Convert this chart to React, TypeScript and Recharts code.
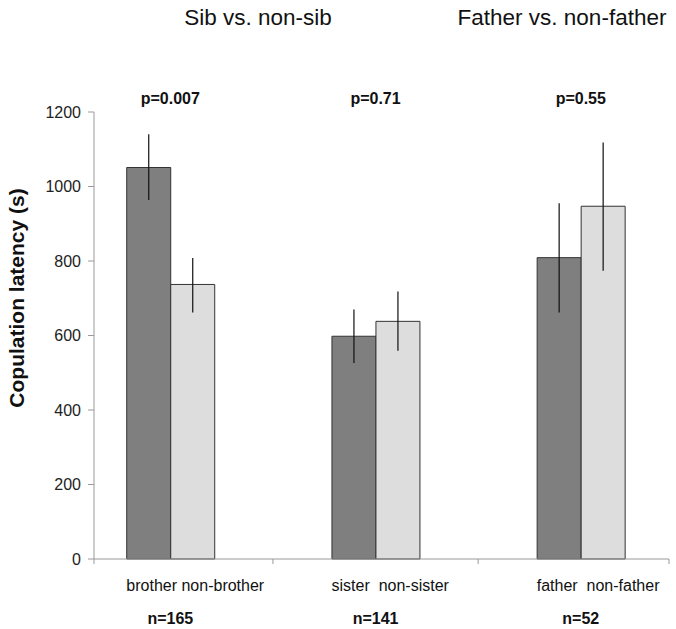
import { BarChart, Bar, XAxis, YAxis, ErrorBar, Customized } from "recharts";

// group index on the x axis (one pair of bars per group)
const groupPos = [0.5, 1.5, 2.5];
const pairLabels = ["brother non-brother", "sister  non-sister", "father  non-father"];
const sampleSizes = ["n=165", "n=141", "n=52"];
const pValues = ["p=0.007", "p=0.71", "p=0.55"];

const relatedMeans = [1051, 598, 809];
const relatedErrLow = [87, 72, 147];
const relatedErrHigh = [89, 72, 146];
const unrelatedMeans = [737, 638, 947];
const unrelatedErrLow = [75, 79, 173];
const unrelatedErrHigh = [71, 80, 171];

const yTicks = [0, 200, 400, 600, 800, 1000, 1200];
const titles = ["Sib vs. non-sib", "Father vs. non-father"];

const FONT = '"Liberation Sans", Arial, sans-serif';
const X_DOMAIN: [number, number] = [0.128, 2.93];

const data = groupPos.map((pos, i) => ({
  pos,
  related: relatedMeans[i],
  relatedErr: [relatedErrLow[i], relatedErrHigh[i]],
  unrelated: unrelatedMeans[i],
  unrelatedErr: [unrelatedErrLow[i], unrelatedErrHigh[i]],
}));

function PTick({ x, y, index }: any) {
  return (
    <text x={x} y={y - 8} textAnchor="middle" fontFamily={FONT} fontSize={16} fontWeight="bold" fill="#111">
      {pValues[index]}
    </text>
  );
}

function LabelTick({ x, y, index }: any) {
  return (
    <g>
      <text x={x - 44} y={y + 24} textAnchor="start" fontFamily={FONT} fontSize={16} fill="#111" style={{ whiteSpace: "pre" }}>
        {pairLabels[index]}
      </text>
      <text x={x} y={y + 57} textAnchor="middle" fontFamily={FONT} fontSize={16} fontWeight="bold" fill="#111">
        {sampleSizes[index]}
      </text>
    </g>
  );
}

// titles over the two comparisons and the y axis caption
function Captions() {
  return (
    <g>
      <text x={258} y={25} textAnchor="middle" fontFamily={FONT} fontSize={22.5} fill="#111">{titles[0]}</text>
      <text x={562} y={25} textAnchor="middle" fontFamily={FONT} fontSize={22.5} fill="#111">{titles[1]}</text>
      <text transform="translate(24,298) rotate(-90)" textAnchor="middle" fontFamily={FONT} fontSize={21} fontWeight="bold" fill="#111">
        Copulation latency (s)
      </text>
    </g>
  );
}

export default function App() {
  return (
    <div style={{ position: "absolute", left: 0, top: 0 }}>
      <BarChart width={676} height={629} data={data} margin={{ top: 0, right: 7, bottom: 0, left: 0 }} barGap={0}>
        <XAxis
          dataKey="pos"
          type="number"
          domain={X_DOMAIN}
          allowDataOverflow
          ticks={[X_DOMAIN[0], 1, 2, X_DOMAIN[1]]}
          tickFormatter={() => ""}
          tickSize={5}
          height={8}
          stroke="#999"
        />
        <XAxis
          xAxisId="lab"
          dataKey="pos"
          type="number"
          domain={X_DOMAIN}
          allowDataOverflow
          ticks={groupPos}
          axisLine={false}
          tickLine={false}
          tickSize={0}
          tickMargin={0}
          height={62}
          tick={<LabelTick />}
          interval={0}
        />
        <XAxis
          xAxisId="p"
          orientation="top"
          dataKey="pos"
          type="number"
          domain={X_DOMAIN}
          allowDataOverflow
          ticks={groupPos}
          axisLine={false}
          tickLine={false}
          tickSize={0}
          tickMargin={0}
          height={112}
          tick={<PTick />}
          interval={0}
        />
        <YAxis
          domain={[0, 1200]}
          ticks={yTicks}
          width={94}
          tickSize={6}
          tickMargin={7}
          stroke="#999"
          tick={{ fill: "#222", fontSize: 16, fontFamily: FONT }}
          interval={0}
        />
        <Bar dataKey="related" fill="#7f7f7f" stroke="#333" strokeWidth={1} barSize={44} isAnimationActive={false}>
          <ErrorBar dataKey="relatedErr" width={0} stroke="#111" strokeWidth={1.2} isAnimationActive={false} />
        </Bar>
        <Bar dataKey="unrelated" fill="#dddddd" stroke="#333" strokeWidth={1} barSize={44} isAnimationActive={false}>
          <ErrorBar dataKey="unrelatedErr" width={0} stroke="#111" strokeWidth={1.2} isAnimationActive={false} />
        </Bar>
        <Customized component={Captions} />
      </BarChart>
    </div>
  );
}
